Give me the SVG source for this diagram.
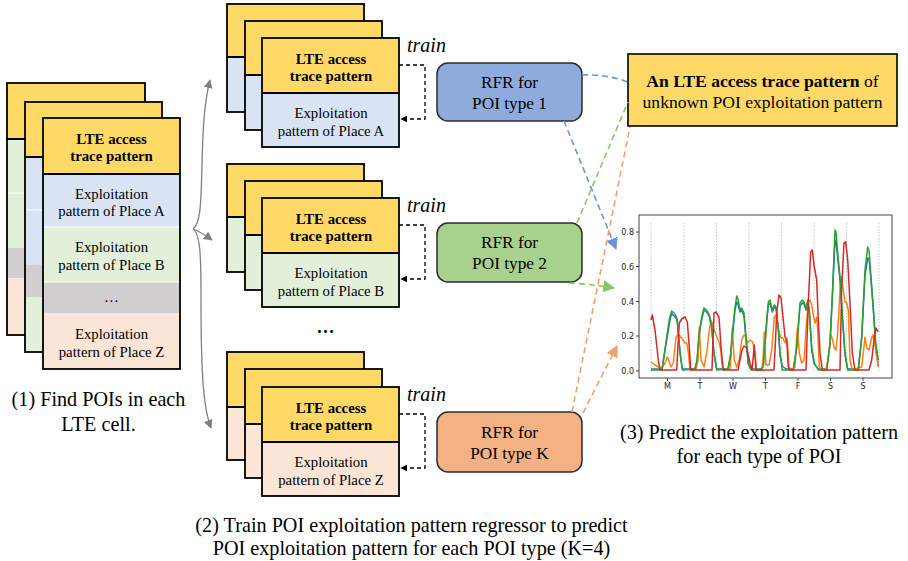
<svg xmlns="http://www.w3.org/2000/svg" width="908" height="561" viewBox="0 0 908 561" font-family="'Liberation Serif', Tinos, 'Times New Roman', 'DejaVu Serif', serif">
<defs>
<style>
.card{stroke:#000;stroke-width:1.8;fill:none}
.yel{fill:#ffd966}
.lb{fill:#dae3f3}
.lg{fill:#e2f0d9}
.gy{fill:#d0cece}
.pc{fill:#fbe5d6}
.hd{font-size:14.8px;font-weight:bold;text-anchor:middle}
.rw{font-size:14.8px;text-anchor:middle}
.cap{font-size:20.2px;text-anchor:middle}
.tr{font-size:20px;font-style:italic}
.rfr{stroke:#2b2b2b;stroke-width:1.5}
.rt{font-size:17.3px;text-anchor:middle}
.tt{font-size:17.6px;text-anchor:middle}
.dtrain{fill:none;stroke:#000;stroke-width:1.3;stroke-dasharray:4 3}
.garr{fill:none;stroke:#808080;stroke-width:1.3}
.db{fill:none;stroke:#6d93d9;stroke-width:1.6;stroke-dasharray:6 4}
.dg{fill:none;stroke:#8cc563;stroke-width:1.6;stroke-dasharray:6 4}
.do{fill:none;stroke:#f4a06a;stroke-width:1.6;stroke-dasharray:6 4}
.tick{font-size:8px;fill:#222}
.cl{fill:none;stroke-width:1.5;stroke-linejoin:round}
.vg{stroke:#c8c8c8;stroke-width:1;stroke-dasharray:1.5 1.5}
</style>
<marker id="mk" viewBox="0 0 10 10" refX="9" refY="5" markerWidth="7" markerHeight="7" orient="auto" markerUnits="userSpaceOnUse"><path d="M0,0 L10,5 L0,10 z" fill="#000"/></marker>
<marker id="mg" viewBox="0 0 10 10" refX="9" refY="5" markerWidth="9" markerHeight="9" orient="auto" markerUnits="userSpaceOnUse"><path d="M0,0 L10,5 L0,10 z" fill="#808080"/></marker>
<marker id="mb" viewBox="0 0 10 10" refX="9" refY="5" markerWidth="12" markerHeight="12" orient="auto" markerUnits="userSpaceOnUse"><path d="M0,0 L10,5 L0,10 z" fill="#6d93d9"/></marker>
<marker id="mgr" viewBox="0 0 10 10" refX="9" refY="5" markerWidth="12" markerHeight="12" orient="auto" markerUnits="userSpaceOnUse"><path d="M0,0 L10,5 L0,10 z" fill="#8cc563"/></marker>
<marker id="mo" viewBox="0 0 10 10" refX="9" refY="5" markerWidth="12" markerHeight="12" orient="auto" markerUnits="userSpaceOnUse"><path d="M0,0 L10,5 L0,10 z" fill="#f4a06a"/></marker>
</defs>
<rect width="908" height="561" fill="#fff"/>

<!-- Left stack -->
<g id="cell-stack">
  <rect class="yel" x="7" y="83" width="138" height="56"/>
  <rect class="lg" x="7" y="139" width="138" height="109"/>
  <line x1="7" y1="193" x2="145" y2="193" stroke="#fff" stroke-width="1"/>
  <rect class="gy" x="7" y="248" width="138" height="30"/>
  <rect class="pc" x="7" y="278" width="138" height="57"/>
  <rect class="card" x="7" y="83" width="138" height="252"/>
  <line x1="7" y1="139" x2="145" y2="139" stroke="#000" stroke-width="1.8"/>

  <rect class="yel" x="25" y="102" width="137" height="55"/>
  <rect class="lb" x="25" y="157" width="137" height="108"/>
  <line x1="25" y1="210" x2="162" y2="210" stroke="#fff" stroke-width="1"/>
  <rect class="gy" x="25" y="265" width="137" height="32"/>
  <rect class="lg" x="25" y="297" width="137" height="55"/>
  <rect class="card" x="25" y="102" width="137" height="250"/>
  <line x1="25" y1="157" x2="162" y2="157" stroke="#000" stroke-width="1.8"/>

  <rect class="yel" x="43" y="118" width="137" height="56"/>
  <rect class="lb" x="43" y="174" width="137" height="53"/>
  <rect class="lg" x="43" y="227" width="137" height="55"/>
  <rect class="gy" x="43" y="282" width="137" height="32"/>
  <rect class="pc" x="43" y="314" width="137" height="55"/>
  <g stroke="#fff" stroke-width="1"><line x1="43" y1="227" x2="180" y2="227"/><line x1="43" y1="282" x2="180" y2="282"/><line x1="43" y1="314" x2="180" y2="314"/></g>
  <rect class="card" x="43" y="118" width="137" height="251"/>
  <line x1="43" y1="174" x2="180" y2="174" stroke="#000" stroke-width="1.8"/>
  <text class="hd" x="111.5" y="143.5">LTE access</text>
  <text class="hd" x="111.5" y="161">trace pattern</text>
  <text class="rw" x="111.5" y="198.5">Exploitation</text>
  <text class="rw" x="111.5" y="215.5">pattern of Place A</text>
  <text class="rw" x="111.5" y="252">Exploitation</text>
  <text class="rw" x="111.5" y="270">pattern of Place B</text>
  <text class="rw" x="111.5" y="302">…</text>
  <text class="rw" x="111.5" y="338.5">Exploitation</text>
  <text class="rw" x="111.5" y="357">pattern of Place Z</text>
</g>
<g id="caption-1">
  <text class="cap" x="98.5" y="406">(1) Find POIs in each</text>
  <text class="cap" x="98.5" y="431">LTE cell.</text>
</g>

<!-- Middle stack A -->
<g id="stack-a">
  <rect class="yel" x="227" y="4" width="137" height="53"/><rect class="lb" x="227" y="57" width="137" height="55"/>
  <rect class="card" x="227" y="4" width="137" height="108"/><line x1="227" y1="57" x2="364" y2="57" stroke="#000" stroke-width="1.8"/>
  <rect class="yel" x="245" y="21" width="137" height="54"/><rect class="lb" x="245" y="75" width="137" height="55"/>
  <rect class="card" x="245" y="21" width="137" height="109"/><line x1="245" y1="75" x2="382" y2="75" stroke="#000" stroke-width="1.8"/>
  <rect class="yel" x="262" y="38" width="137" height="55"/><rect class="lb" x="262" y="93" width="137" height="54"/>
  <rect class="card" x="262" y="38" width="137" height="109"/><line x1="262" y1="93" x2="399" y2="93" stroke="#000" stroke-width="1.8"/>
  <text class="hd" x="331" y="63.5">LTE access</text>
  <text class="hd" x="331" y="80.5">trace pattern</text>
  <text class="rw" x="331" y="118">Exploitation</text>
  <text class="rw" x="331" y="135.5">pattern of Place A</text>
  <text class="tr" x="407" y="52">train</text>
</g>

<!-- Middle stack B -->
<g id="stack-b">
  <rect class="yel" x="227" y="164" width="137" height="53"/><rect class="lg" x="227" y="217" width="137" height="55"/>
  <rect class="card" x="227" y="164" width="137" height="108"/><line x1="227" y1="217" x2="364" y2="217" stroke="#000" stroke-width="1.8"/>
  <rect class="yel" x="245" y="181" width="137" height="54"/><rect class="lg" x="245" y="235" width="137" height="55"/>
  <rect class="card" x="245" y="181" width="137" height="109"/><line x1="245" y1="235" x2="382" y2="235" stroke="#000" stroke-width="1.8"/>
  <rect class="yel" x="262" y="198" width="137" height="55"/><rect class="lg" x="262" y="253" width="137" height="54"/>
  <rect class="card" x="262" y="198" width="137" height="109"/><line x1="262" y1="253" x2="399" y2="253" stroke="#000" stroke-width="1.8"/>
  <text class="hd" x="331" y="223.5">LTE access</text>
  <text class="hd" x="331" y="240.5">trace pattern</text>
  <text class="rw" x="331" y="278">Exploitation</text>
  <text class="rw" x="331" y="295.5">pattern of Place B</text>
  <text class="tr" x="407" y="212">train</text>
</g>
<text x="325.5" y="333" font-size="18" font-weight="bold" text-anchor="middle">…</text>

<!-- Middle stack K -->
<g id="stack-k">
  <rect class="yel" x="227" y="352" width="137" height="55"/><rect class="pc" x="227" y="407" width="137" height="53"/>
  <rect class="card" x="227" y="352" width="137" height="108"/><line x1="227" y1="407" x2="364" y2="407" stroke="#000" stroke-width="1.8"/>
  <rect class="yel" x="245" y="369" width="137" height="55"/><rect class="pc" x="245" y="424" width="137" height="54"/>
  <rect class="card" x="245" y="369" width="137" height="109"/><line x1="245" y1="424" x2="382" y2="424" stroke="#000" stroke-width="1.8"/>
  <rect class="yel" x="262" y="387" width="137" height="55"/><rect class="pc" x="262" y="442" width="137" height="54"/>
  <rect class="card" x="262" y="387" width="137" height="109"/><line x1="262" y1="442" x2="399" y2="442" stroke="#000" stroke-width="1.8"/>
  <text class="hd" x="331" y="412.5">LTE access</text>
  <text class="hd" x="331" y="429.5">trace pattern</text>
  <text class="rw" x="331" y="467">Exploitation</text>
  <text class="rw" x="331" y="484.5">pattern of Place Z</text>
  <text class="tr" x="407" y="401">train</text>
</g>
<g id="caption-2">
  <text class="cap" x="411.5" y="531.5">(2) Train POI exploitation pattern regressor to predict</text>
  <text class="cap" x="411.5" y="554.5">POI exploitation pattern for each POI type (K=4)</text>
</g>

<!-- RFR boxes -->
<g id="rfr-1">
  <rect class="rfr" x="437" y="63" width="145" height="58" rx="11" fill="#8faadc"/>
  <text class="rt" x="509.5" y="87.5">RFR for</text>
  <text class="rt" x="509.5" y="108.5">POI type 1</text>
</g>
<g id="rfr-2">
  <rect class="rfr" x="437" y="223" width="145" height="59" rx="11" fill="#a9d18e"/>
  <text class="rt" x="509.5" y="248">RFR for</text>
  <text class="rt" x="509.5" y="269">POI type 2</text>
</g>
<g id="rfr-k">
  <rect class="rfr" x="437" y="412" width="145" height="60" rx="11" fill="#f4b183"/>
  <text class="rt" x="509.5" y="437.5">RFR for</text>
  <text class="rt" x="509.5" y="458.5">POI type K</text>
</g>

<!-- Target box -->
<g id="target">
  <rect x="628" y="54" width="269" height="72" fill="#ffd966" stroke="#000" stroke-width="1.6"/>
  <text class="tt" x="762.5" y="86.5"><tspan font-weight="bold">An LTE access trace pattern</tspan> of</text>
  <text class="tt" x="762.5" y="107.5">unknown POI exploitation pattern</text>
</g>

<!-- Chart -->
<g id="chart">
  <rect x="639" y="215" width="253" height="163" fill="#fff" stroke="#444" stroke-width="1"/>
  <g class="vg">
    <line x1="651" y1="223" x2="651" y2="373"/><line x1="684" y1="223" x2="684" y2="373"/>
    <line x1="716.5" y1="223" x2="716.5" y2="373"/><line x1="749" y1="223" x2="749" y2="373"/>
    <line x1="781.5" y1="223" x2="781.5" y2="373"/><line x1="814" y1="223" x2="814" y2="373"/>
    <line x1="846.5" y1="223" x2="846.5" y2="373"/><line x1="879" y1="223" x2="879" y2="373"/>
  </g>
  <g stroke="#444" stroke-width="1">
    <line x1="636" y1="232" x2="639" y2="232"/><line x1="636" y1="266.5" x2="639" y2="266.5"/>
    <line x1="636" y1="301.5" x2="639" y2="301.5"/><line x1="636" y1="336" x2="639" y2="336"/>
    <line x1="636" y1="371" x2="639" y2="371"/>
    <line x1="667.5" y1="378" x2="667.5" y2="381"/><line x1="700" y1="378" x2="700" y2="381"/>
    <line x1="733" y1="378" x2="733" y2="381"/><line x1="765.5" y1="378" x2="765.5" y2="381"/>
    <line x1="798" y1="378" x2="798" y2="381"/><line x1="830.5" y1="378" x2="830.5" y2="381"/>
    <line x1="863" y1="378" x2="863" y2="381"/>
  </g>
  <g class="tick" font-family="'DejaVu Sans', sans-serif" text-anchor="end">
    <text x="634" y="235">0.8</text><text x="634" y="269.5">0.6</text>
    <text x="634" y="304.5">0.4</text><text x="634" y="339">0.2</text><text x="634" y="374">0.0</text>
  </g>
  <g class="tick" font-family="'DejaVu Sans', sans-serif" text-anchor="middle">
    <text x="667.5" y="389">M</text><text x="700" y="389">T</text><text x="733" y="389">W</text>
    <text x="765.5" y="389">T</text><text x="798" y="389">F</text><text x="830.5" y="389">S</text><text x="863" y="389">S</text>
  </g>
  <polyline class="cl" stroke="#1f77b4" points="651,369 662,369 666.7,340 670,320 671.7,313 673,315 674.3,316 676,318 677.3,322 680,352 682.3,369 695,369 697,362 699.3,334 702,318 704,310 706.7,312 709.3,316 711.7,328 714,354 716.7,369 728,369 730.5,357 732.7,334 735,310 736.7,302 738,304 740,312 741.7,310 744,316 746,340 748.3,364 751,369 761,369 763.3,366 766.7,323 768.3,305 770,303 772.3,312 774.3,307 776,309 778.3,329 780,355 782.3,366 786,369 793.3,369 796.7,348 800,306 802.3,303 804,304 806,310 807.7,303 809.3,312 811.7,350 814.3,364 818.3,369 826.7,369 830,345 832.7,290 835,240 836,242 837.7,258 840,280 842.3,316 845,355 847.7,369 858.3,369 861.7,338 865,276 867.7,258 869,259 871,280 873.3,310 875.7,345 878.3,366"/>
  <polyline class="cl" stroke="#ff7f0e" points="651,362 655,365 658.3,367 662,368 665,363 667.3,357 669.3,362 671,367 673.3,363 676,337 678.3,334 681.7,338 685,343 686.7,343 688.3,352 690,370 696,369 698,360 699.3,327 701,360 704,367 706.7,353 709.3,330 711,320 713.3,327 716,335 719,342 720.7,350 722.7,370 730,369 731,355 732.3,328 734.3,360 736.7,367 739.3,360 741.7,340 744,335 746,337 747.3,343 750,340 752.7,342 755,353 756.5,370 762,370 763,360 764.3,332 766,365 769,365 771.7,350 774.3,317 776,315 778.3,330 781,338 783,338 785,343 786.7,338 787.7,347 789,367 792,370 795,367 797.3,328 799.3,353 801.7,363 804,360 806.7,320 808.3,302 810,300 811.7,305 813.3,315 815,323 816.7,317 817.7,330 819.3,367 822,370 826,369 828,360 831,335 832.7,340 834.3,348 836,350 837.7,333 840,290 841.7,277 843.3,290 845,302 846.7,303 848.3,310 850,360 852.3,370 861.7,367 865,337 866.7,348 869,350 871,340 872.7,335 874.3,340 876,353 878.3,367"/>
  <polyline class="cl" stroke="#2ca02c" points="651,370 662,370 666.7,337 669.5,318 671.7,311 674.3,313 676,316 677.3,320 680,353 682.3,370 695,369 697,360 699.3,332 702,316 704,308 706.7,310 709.3,315 711.7,327 714,353 716.7,370 728,369 730.5,355 732.7,330 735,307 736.7,296 738,299 740,310 741.7,308 744,313 746,337 748.3,363 751,370 761,370 763.3,366 766.7,320 768.3,302 770,300 772.3,310 774.3,305 776,307 778.3,327 780,353 782.3,370 793.3,370 796.7,347 800,303 802.3,300 804,302 806,309 807.7,300 809.3,310 811.7,347 814.3,363 818.3,370 826.7,370 830,343 832.7,287 835,230 836,232 837.7,253 840,277 842.3,313 845,353 847.7,370 858.3,370 861.7,337 865,270 867.7,247 869,250 871,277 873.3,307 875.7,343 878.3,360"/>
  <polyline class="cl" stroke="#d62728" points="651,320 652.3,315 655,330 658.3,360 660,370 676.7,370 678,345 679.3,323 681.7,319 685,317 687.3,322 689.3,347 690.7,370 712,370 713,340 714,313 716,312 719,317 721,347 723.3,370 738,370 740,360 742,350 744,346 746.7,348 750,363 752,370 753,360 754.3,345 756,370 774,370 775.5,340 776.7,313 779,295 781,298 783.3,320 785,337 786.7,340 788.3,367 790,370 806,370 807,340 808.3,303 810.7,252 812.3,250 814.3,267 816.7,280 818.3,320 820,353 822.3,370 840,370 840.8,330 841.7,287 844,243 845.7,242 847.7,260 850,303 852.3,353 855,370 869,370 871.7,360 874.3,337 876,328 878.3,332"/>
</g>
<g id="caption-3">
  <text class="cap" x="759" y="438.5">(3) Predict the exploitation pattern</text>
  <text class="cap" x="759" y="462.5">for each type of POI</text>
</g>

<!-- Connectors -->
<g id="connectors">
  <path class="garr" d="M193,229 C201,224 201,200 202,165 C203,120 205,100 210,80" marker-end="url(#mg)"/>
  <path class="garr" d="M193,229 Q201,232 212,240" marker-end="url(#mg)"/>
  <path class="garr" d="M193,229 C201,234 201,262 201,300 C201,380 204,410 211,428" marker-end="url(#mg)"/>
  <path class="dtrain" d="M399,65 H425 V119 H401" marker-end="url(#mk)"/>
  <path class="dtrain" d="M399,225 H425 V279 H401" marker-end="url(#mk)"/>
  <path class="dtrain" d="M399,414 H425 V468 H401" marker-end="url(#mk)"/>
  <path class="db" d="M582,75 Q606,74 628,82"/>
  <path class="db" d="M564,121 L616,249" marker-end="url(#mb)"/>
  <path class="dg" d="M577,223 L628,102"/>
  <path class="dg" d="M569,283 Q590,284 614,288" marker-end="url(#mgr)"/>
  <path class="do" d="M572,412 L630,127"/>
  <path class="do" d="M583,413 L617,346" marker-end="url(#mo)"/>
</g>
</svg>
